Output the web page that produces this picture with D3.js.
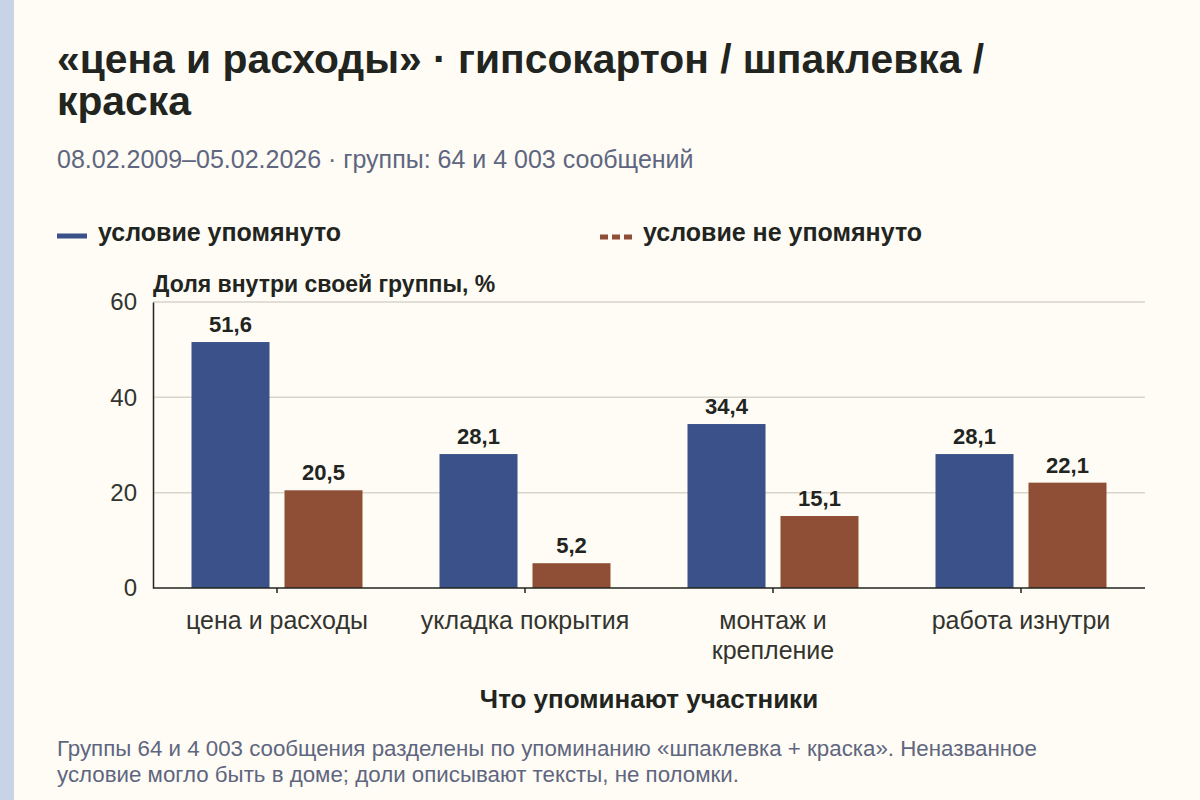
<!DOCTYPE html>
<html lang="ru">
<head>
<meta charset="UTF-8">
<title>цена и расходы</title>
<script src="https://d3js.org/d3.v7.min.js"></script>
<style>
  body { margin: 0; background: #fefcf4; }
  svg { display: block; font-family: "Liberation Sans", Arial, sans-serif; }
</style>
</head>
<body>
<script>
// data
const categories = ["цена и расходы", "укладка покрытия", "монтаж и крепление", "работа изнутри"];
const catLines = [["цена и расходы"], ["укладка покрытия"], ["монтаж и", "крепление"], ["работа изнутри"]];
const seriesNames = ["условие упомянуто", "условие не упомянуто"];
const mentioned = [51.6, 28.1, 34.4, 28.1];
const notMentioned = [20.5, 5.2, 15.1, 22.1];
const yTicks = [0, 20, 40, 60];

const width = 1200, height = 800;
const colors = ["#3b5189", "#8f4f36"];
const margin = { left: 153, right: 1145, top: 302, bottom: 588 };

const svg = d3.select("body").append("svg")
  .attr("width", width).attr("height", height);

svg.append("rect").attr("width", width).attr("height", height).attr("fill", "#fefcf4");
svg.append("rect").attr("width", 14).attr("height", height).attr("fill", "#c9d3e8");

// title
svg.append("text").attr("x", 57).attr("y", 73)
  .attr("font-size", 40.8).attr("font-weight", "bold").attr("fill", "#22241f")
  .text("«цена и расходы» · гипсокартон / шпаклевка /");
svg.append("text").attr("x", 57).attr("y", 115)
  .attr("font-size", 40.8).attr("font-weight", "bold").attr("fill", "#22241f")
  .text("краска");
svg.append("text").attr("x", 57).attr("y", 168)
  .attr("font-size", 25).attr("fill", "#5f6680")
  .text("08.02.2009–05.02.2026 · группы: 64 и 4 003 сообщений");

// legend
svg.append("line").attr("x1", 57).attr("x2", 87).attr("y1", 236).attr("y2", 236)
  .attr("stroke", colors[0]).attr("stroke-width", 5);
svg.append("text").attr("x", 98).attr("y", 241)
  .attr("font-size", 25).attr("font-weight", "bold").attr("fill", "#22241f")
  .text(seriesNames[0]);
svg.append("line").attr("x1", 600).attr("x2", 632).attr("y1", 237).attr("y2", 237)
  .attr("stroke", colors[1]).attr("stroke-width", 5).attr("stroke-dasharray", "8,4");
svg.append("text").attr("x", 643).attr("y", 241)
  .attr("font-size", 25).attr("font-weight", "bold").attr("fill", "#22241f")
  .text(seriesNames[1]);

// scales
const x = d3.scaleBand().domain(categories).range([margin.left, margin.right]);
const xInner = d3.scaleBand().domain([0, 1]).range([38.5, x.bandwidth() - 38.5]).paddingInner(0.161);
const y = d3.scaleLinear().domain([0, 60]).range([margin.bottom, margin.top]);

// grid
svg.append("g").selectAll("line").data(yTicks.filter(d => d > 0)).join("line")
  .attr("x1", margin.left).attr("x2", margin.right)
  .attr("y1", d => y(d)).attr("y2", d => y(d))
  .attr("stroke", "#d9d5cc").attr("stroke-width", 1.5);

// y axis
const yAxis = svg.append("g").attr("transform", `translate(${margin.left},0)`)
  .call(d3.axisLeft(y).tickValues(yTicks).tickSize(0).tickPadding(16));
yAxis.select(".domain").attr("stroke", "#22241f").attr("stroke-width", 1.5);
yAxis.selectAll("text").attr("font-size", 24).attr("fill", "#33342f")
  .attr("font-family", "Liberation Sans, Arial, sans-serif");

svg.append("text").attr("x", 153).attr("y", 292)
  .attr("font-size", 23).attr("font-weight", "bold").attr("fill", "#22241f")
  .text("Доля внутри своей группы, %");

// bars
const series = [mentioned, notMentioned];
const groups = svg.append("g").selectAll("g").data(categories).join("g")
  .attr("transform", d => `translate(${x(d)},0)`);
groups.selectAll("rect").data((d, i) => series.map((s, k) => ({ k, v: s[i] }))).join("rect")
  .attr("x", d => xInner(d.k)).attr("width", xInner.bandwidth())
  .attr("y", d => y(d.v)).attr("height", d => y(0) - y(d.v))
  .attr("fill", d => colors[d.k]);
groups.selectAll("text").data((d, i) => series.map((s, k) => ({ k, v: s[i] }))).join("text")
  .attr("x", d => xInner(d.k) + xInner.bandwidth() / 2).attr("y", d => y(d.v) - 10)
  .attr("text-anchor", "middle").attr("font-size", 22).attr("font-weight", "bold").attr("fill", "#22241f")
  .text(d => d.v.toFixed(1).replace(".", ","));

// x axis
const xAxis = svg.append("g").attr("transform", `translate(0,${margin.bottom})`)
  .call(d3.axisBottom(x).tickSize(5).tickFormat(""));
xAxis.select(".domain").attr("stroke", "#22241f").attr("stroke-width", 1.5).attr("d", `M${margin.left},0H${margin.right}`);
xAxis.selectAll(".tick line").attr("stroke", "#22241f").attr("stroke-width", 1.5);
xAxis.selectAll(".tick").each(function(d, i) {
  const t = d3.select(this).append("text").attr("fill", "#33342f").attr("font-size", 25)
    .attr("text-anchor", "middle").attr("font-family", "Liberation Sans, Arial, sans-serif");
  catLines[i].forEach((ln, j) => t.append("tspan").attr("x", 0).attr("y", 41 + j * 30).text(ln));
});

svg.append("text").attr("x", 649).attr("y", 708).attr("text-anchor", "middle")
  .attr("font-size", 26).attr("font-weight", "bold").attr("fill", "#22241f")
  .text("Что упоминают участники");

// footnote
svg.append("text").attr("x", 57).attr("y", 756)
  .attr("font-size", 22.3).attr("fill", "#5f6680")
  .text("Группы 64 и 4 003 сообщения разделены по упоминанию «шпаклевка + краска». Неназванное");
svg.append("text").attr("x", 57).attr("y", 782)
  .attr("font-size", 22.3).attr("fill", "#5f6680")
  .text("условие могло быть в доме; доли описывают тексты, не поломки.");
</script>
</body>
</html>
